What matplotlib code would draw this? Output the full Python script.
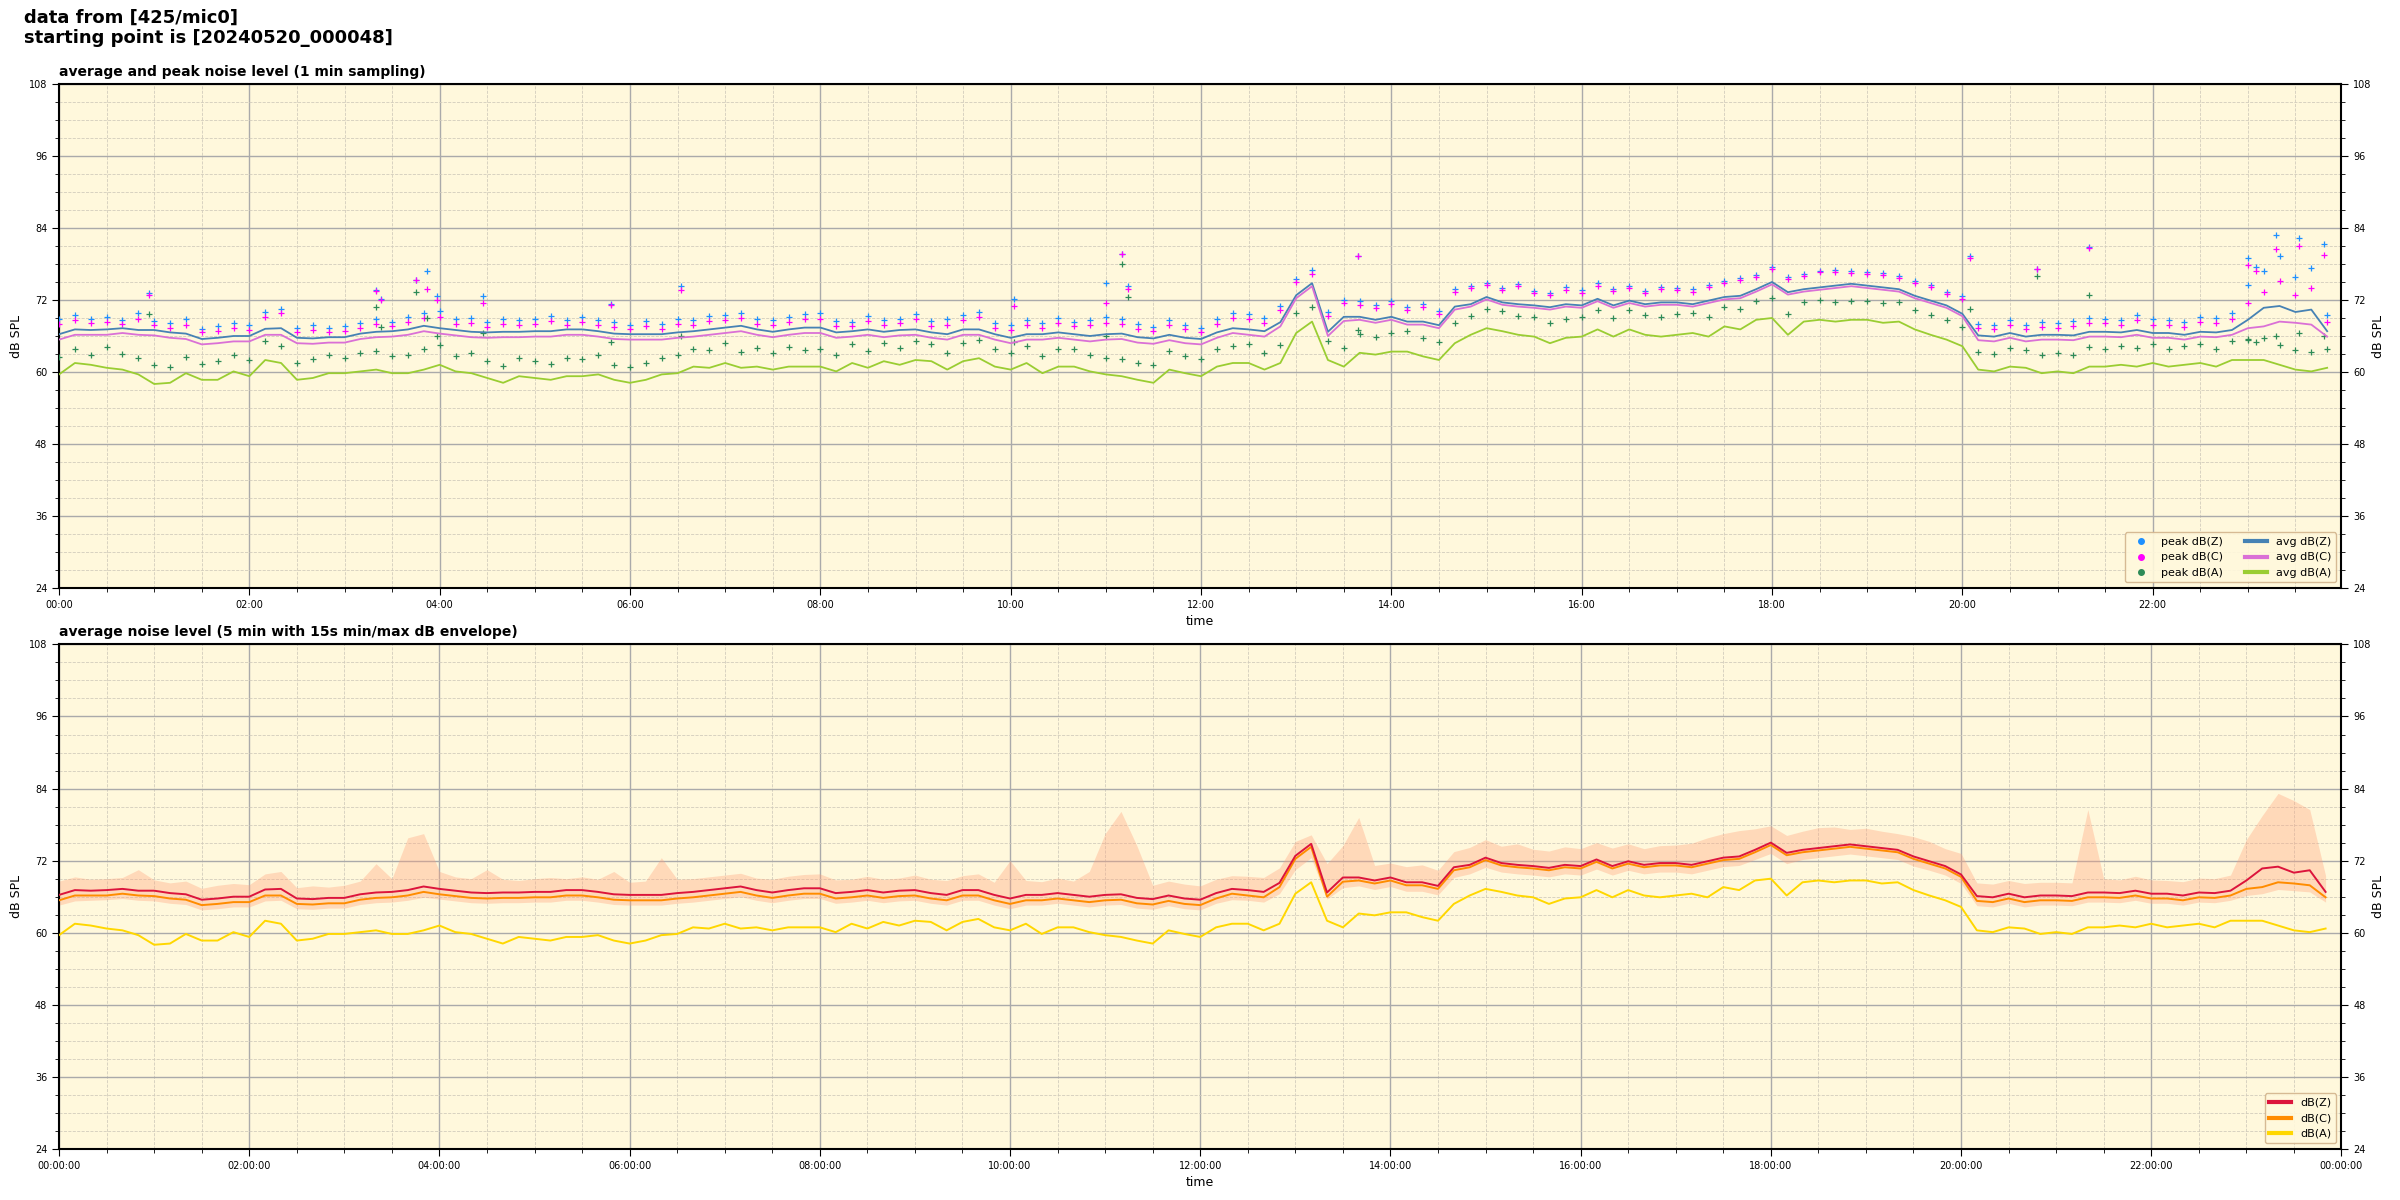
import numpy as np
import pandas as pd
import matplotlib
matplotlib.use("Agg")
import matplotlib.pyplot as plt
import matplotlib.dates as mdates
from matplotlib.lines import Line2D

# 10-minute readings, 00:00 .. 23:50 (144 values each)
avg_a = [59.6, 61.5, 61.2, 60.7, 60.4, 59.6,
         58.0, 58.2, 59.8, 58.7, 58.7, 60.1,
         59.3, 62.0, 61.5, 58.7, 59.0, 59.8,
         59.8, 60.1, 60.4, 59.8, 59.8, 60.4,
         61.2, 60.1, 59.8, 59.0, 58.2, 59.3,
         59.0, 58.7, 59.3, 59.3, 59.6, 58.7,
         58.2, 58.7, 59.6, 59.8, 60.9, 60.7,
         61.5, 60.7, 60.9, 60.4, 60.9, 60.9,
         60.9, 60.1, 61.5, 60.7, 61.8, 61.2,
         62.0, 61.8, 60.4, 61.8, 62.3, 60.9,
         60.4, 61.5, 59.8, 60.9, 60.9, 60.1,
         59.6, 59.3, 58.7, 58.2, 60.4, 59.8,
         59.3, 60.9, 61.5, 61.5, 60.4, 61.5,
         66.5, 68.4, 62.0, 60.9, 63.2, 62.9,
         63.4, 63.4, 62.6, 62.0, 64.8, 66.2,
         67.3, 66.8, 66.2, 65.9, 64.8, 65.7,
         65.9, 67.1, 65.9, 67.1, 66.2, 65.9,
         66.2, 66.5, 65.9, 67.6, 67.1, 68.7,
         69.0, 66.2, 68.4, 68.7, 68.4, 68.7,
         68.7, 68.2, 68.4, 67.1, 66.2, 65.4,
         64.3, 60.4, 60.1, 60.9, 60.7, 59.8,
         60.1, 59.8, 60.9, 60.9, 61.2, 60.9,
         61.5, 60.9, 61.2, 61.5, 60.9, 62.0,
         62.0, 62.0, 61.2, 60.4, 60.1, 60.7]

avg_c = [65.4, 66.2, 66.2, 66.2, 66.5, 66.2,
         66.1, 65.7, 65.5, 64.6, 64.8, 65.1,
         65.1, 66.2, 66.2, 64.8, 64.7, 64.9,
         64.9, 65.5, 65.8, 65.9, 66.2, 66.8,
         66.4, 66.1, 65.8, 65.7, 65.8, 65.8,
         65.9, 65.9, 66.2, 66.2, 65.9, 65.5,
         65.4, 65.4, 65.4, 65.7, 65.9, 66.2,
         66.5, 66.8, 66.2, 65.8, 66.2, 66.5,
         66.5, 65.7, 65.9, 66.2, 65.8, 66.1,
         66.2, 65.7, 65.4, 66.2, 66.2, 65.4,
         64.8, 65.4, 65.4, 65.7, 65.4, 65.1,
         65.4, 65.5, 64.9, 64.7, 65.3, 64.8,
         64.6, 65.7, 66.5, 66.2, 65.9, 67.6,
         72.3, 74.3, 66.0, 68.5, 68.7, 68.2,
         68.7, 67.9, 67.9, 67.3, 70.4, 70.9,
         72.1, 71.2, 70.9, 70.7, 70.4, 70.9,
         70.7, 71.8, 70.7, 71.5, 70.9, 71.2,
         71.2, 70.9, 71.5, 72.1, 72.3, 73.4,
         74.6, 72.9, 73.4, 73.7, 74.0, 74.3,
         74.0, 73.7, 73.4, 72.3, 71.5, 70.7,
         69.3, 65.3, 65.1, 65.7, 65.1, 65.4,
         65.4, 65.3, 65.9, 65.9, 65.8, 66.2,
         65.7, 65.7, 65.4, 65.9, 65.8, 66.2,
         67.3, 67.6, 68.4, 68.2, 67.9, 65.9]

avg_z = [66.3, 67.1, 67.0, 67.1, 67.3, 67.0,
         67.0, 66.6, 66.4, 65.5, 65.7, 66.0,
         66.0, 67.2, 67.3, 65.7, 65.6, 65.8,
         65.8, 66.4, 66.7, 66.8, 67.1, 67.7,
         67.3, 67.0, 66.7, 66.6, 66.7, 66.7,
         66.8, 66.8, 67.1, 67.1, 66.8, 66.4,
         66.3, 66.3, 66.3, 66.6, 66.8, 67.1,
         67.4, 67.7, 67.1, 66.7, 67.1, 67.4,
         67.4, 66.6, 66.8, 67.1, 66.7, 67.0,
         67.1, 66.6, 66.3, 67.1, 67.1, 66.3,
         65.7, 66.3, 66.3, 66.6, 66.3, 66.0,
         66.3, 66.4, 65.8, 65.6, 66.2, 65.7,
         65.5, 66.6, 67.3, 67.1, 66.8, 68.3,
         72.8, 74.8, 66.7, 69.2, 69.2, 68.7,
         69.2, 68.4, 68.4, 67.8, 70.9, 71.3,
         72.5, 71.6, 71.3, 71.1, 70.8, 71.3,
         71.1, 72.2, 71.1, 71.9, 71.3, 71.6,
         71.6, 71.3, 71.9, 72.5, 72.7, 73.8,
         75.0, 73.3, 73.8, 74.1, 74.4, 74.7,
         74.4, 74.1, 73.8, 72.7, 71.9, 71.1,
         69.7, 66.1, 65.9, 66.5, 65.9, 66.2,
         66.2, 66.1, 66.7, 66.7, 66.6, 67.0,
         66.5, 66.5, 66.2, 66.7, 66.6, 67.0,
         68.7, 70.7, 71.0, 70.0, 70.4, 66.8]

peak_z = [68.8, 69.5, 68.9, 69.2, 68.7, 69.8,
          68.5, 68.2, 68.9, 67.2, 67.6, 68.1,
          67.8, 70.0, 70.5, 67.4, 67.9, 67.3,
          67.6, 68.2, 68.9, 68.4, 69.1, 69.9,
          70.1, 68.8, 69.0, 68.3, 68.9, 68.6,
          68.9, 69.4, 68.7, 69.2, 68.6, 68.3,
          67.9, 68.5, 68.0, 68.9, 68.6, 69.3,
          69.5, 69.9, 68.8, 68.6, 69.2, 69.7,
          69.8, 68.5, 68.4, 69.4, 68.7, 68.9,
          69.6, 68.5, 68.8, 69.5, 70.0, 68.2,
          67.9, 68.6, 68.1, 69.0, 68.4, 68.7,
          69.1, 68.8, 68.0, 67.5, 68.6, 67.9,
          67.3, 68.8, 69.9, 69.6, 69.0, 71.0,
          75.5, 77.0, 70.0, 72.0, 71.8, 71.2,
          71.9, 70.8, 71.4, 70.2, 73.8, 74.4,
          74.8, 74.0, 74.6, 73.5, 73.2, 74.1,
          73.6, 74.8, 73.9, 74.4, 73.5, 74.2,
          74.0, 73.8, 74.5, 75.1, 75.6, 76.2,
          77.5, 75.8, 76.3, 76.9, 77.0, 76.8,
          76.7, 76.5, 76.0, 75.2, 74.5, 73.4,
          72.6, 68.0, 67.8, 68.6, 67.9, 68.3,
          68.2, 68.5, 69.0, 68.9, 68.7, 69.5,
          68.8, 68.6, 68.3, 69.1, 69.0, 69.8,
          74.5, 76.9, 79.3, 75.8, 77.4, 69.5]

peak_c = [68.0, 68.6, 68.2, 68.4, 68.0, 68.9,
          67.8, 67.4, 67.9, 66.6, 66.9, 67.3,
          67.0, 69.2, 69.8, 66.7, 67.0, 66.6,
          66.8, 67.4, 68.0, 67.7, 68.3, 69.0,
          69.2, 68.0, 68.1, 67.5, 68.0, 67.8,
          68.0, 68.5, 67.9, 68.4, 67.8, 67.5,
          67.1, 67.6, 67.2, 68.0, 67.8, 68.5,
          68.7, 69.0, 68.0, 67.8, 68.4, 68.9,
          68.9, 67.7, 67.6, 68.5, 67.9, 68.1,
          68.8, 67.7, 67.9, 68.6, 69.1, 67.4,
          67.0, 67.8, 67.3, 68.1, 67.6, 67.8,
          68.2, 68.0, 67.2, 66.8, 67.8, 67.1,
          66.6, 68.0, 69.0, 68.8, 68.2, 70.3,
          75.0, 76.4, 69.4, 71.5, 71.2, 70.7,
          71.4, 70.3, 70.9, 69.7, 73.4, 74.0,
          74.5, 73.6, 74.3, 73.1, 72.8, 73.7,
          73.2, 74.4, 73.5, 74.0, 73.1, 73.8,
          73.7, 73.4, 74.1, 74.8, 75.3, 75.9,
          77.2, 75.5, 76.0, 76.6, 76.7, 76.5,
          76.4, 76.2, 75.7, 74.9, 74.1, 73.0,
          72.2, 67.3, 67.1, 67.8, 67.1, 67.5,
          67.4, 67.6, 68.2, 68.1, 67.9, 68.6,
          67.9, 67.8, 67.5, 68.3, 68.2, 68.9,
          71.5, 73.4, 75.2, 72.8, 74.0, 68.4]

peak_a = [62.5, 63.8, 62.9, 64.2, 63.0, 62.4,
          61.2, 60.8, 62.5, 61.3, 61.9, 62.8,
          62.0, 65.1, 64.3, 61.5, 62.2, 62.9,
          62.4, 63.2, 63.5, 62.6, 62.9, 63.8,
          64.5, 62.7, 63.1, 61.9, 61.0, 62.4,
          61.8, 61.4, 62.3, 62.1, 62.8, 61.2,
          60.9, 61.5, 62.4, 62.9, 63.8, 63.6,
          64.9, 63.4, 64.0, 63.2, 64.1, 63.7,
          63.9, 62.9, 64.6, 63.5, 64.8, 64.0,
          65.1, 64.6, 63.2, 64.9, 65.3, 63.8,
          63.2, 64.4, 62.6, 63.9, 63.8, 62.9,
          62.4, 62.1, 61.5, 61.1, 63.5, 62.6,
          62.1, 63.8, 64.4, 64.6, 63.2, 64.5,
          69.8, 70.9, 65.1, 64.0, 66.3, 65.9,
          66.5, 66.8, 65.6, 65.0, 68.2, 69.4,
          70.5, 70.1, 69.4, 69.2, 68.1, 68.9,
          69.2, 70.4, 69.0, 70.3, 69.5, 69.1,
          69.6, 69.8, 69.1, 70.8, 70.5, 71.9,
          72.4, 69.6, 71.6, 72.0, 71.7, 71.9,
          71.9, 71.5, 71.6, 70.4, 69.5, 68.6,
          67.5, 63.4, 63.0, 64.0, 63.6, 62.9,
          63.2, 62.8, 64.1, 63.9, 64.4, 64.0,
          64.6, 63.9, 64.3, 64.7, 63.9, 65.1,
          65.3, 65.6, 64.5, 63.6, 63.4, 63.9]

# isolated peak events: minute of day, peak Z, peak C, peak A
spike_min = [57, 200, 203, 225, 232, 238, 267, 348, 392, 602, 660, 670, 674,
             819, 1205, 1247, 1280, 1380, 1385, 1398, 1412, 1428]
spike_z = [73.2, 73.6, 72.2, 75.4, 76.8, 72.7, 72.7, 71.4, 74.4, 72.2, 74.8, 79.7, 74.3,
           79.4, 79.3, 77.2, 80.8, 79.0, 77.5, 82.9, 82.3, 81.4]
spike_c = [72.9, 73.5, 72.0, 75.3, 73.9, 72.0, 71.5, 71.1, 73.6, 71.0, 71.5, 79.7, 73.8,
           79.3, 79.0, 77.2, 80.6, 77.8, 76.9, 80.5, 81.0, 79.5]
spike_a = [69.7, 70.8, 67.5, 73.4, 69.0, 66.0, 66.5, 65.0, 66.0, 65.0, 66.0, 78.0, 72.5,
           67.0, 70.5, 76.0, 72.9, 65.5, 65.0, 66.0, 66.5, 66.0]

# 15s min/max envelope, 10-minute readings
env_max = [68.6, 69.3, 68.9, 69.0, 69.2, 70.5,
           68.8, 68.3, 68.6, 67.4, 67.9, 68.2,
           68.0, 69.8, 70.2, 67.5, 67.8, 67.6,
           67.9, 68.6, 71.5, 69.0, 75.8, 76.5,
           70.2, 69.3, 69.0, 70.5, 68.9, 68.7,
           69.0, 69.2, 69.0, 69.3, 68.9, 70.2,
           68.4, 68.6, 72.5, 68.9, 69.0, 69.3,
           69.6, 69.9, 69.1, 68.9, 69.4, 69.7,
           69.8, 68.8, 68.9, 69.4, 68.9, 69.1,
           69.6, 68.9, 68.7, 69.5, 69.8, 68.4,
           72.0, 68.7, 68.5, 69.1, 68.6, 70.2,
           76.5, 80.2, 74.5, 67.9, 68.6, 68.1,
           67.8, 68.9, 69.5, 69.4, 69.2, 70.8,
           75.2, 76.3, 71.5, 74.5, 79.2, 71.2,
           71.6, 71.0, 71.3, 70.4, 73.5, 74.2,
           75.5, 74.4, 74.8, 73.9, 73.6, 74.3,
           74.0, 75.0, 74.1, 74.8, 74.0, 74.5,
           74.6, 74.9, 75.8, 76.5, 77.0, 77.3,
           77.8, 76.2, 76.9, 77.5, 77.6, 77.2,
           77.4, 76.9, 76.5, 76.0, 75.2, 74.0,
           73.2, 68.3, 68.1, 68.7, 68.2, 68.4,
           68.4, 68.3, 80.5, 69.0, 68.8, 69.4,
           68.8, 68.7, 68.5, 69.1, 69.0, 69.6,
           75.5, 79.5, 83.2, 82.0, 80.5, 69.5]

env_min = [64.6, 65.3, 65.4, 65.5, 65.7, 65.4,
           65.3, 64.9, 64.7, 63.8, 64.0, 64.3,
           64.3, 65.3, 65.4, 64.0, 63.9, 64.1,
           64.1, 64.7, 65.0, 65.1, 65.4, 65.9,
           65.6, 65.3, 65.0, 64.9, 65.0, 65.0,
           65.1, 65.1, 65.4, 65.4, 65.1, 64.7,
           64.6, 64.6, 64.6, 64.9, 65.1, 65.4,
           65.7, 66.0, 65.4, 65.0, 65.4, 65.7,
           65.7, 64.9, 65.1, 65.4, 65.0, 65.3,
           65.4, 64.9, 64.6, 65.4, 65.4, 64.6,
           64.0, 64.6, 64.6, 64.9, 64.6, 64.3,
           64.6, 64.7, 64.1, 63.9, 64.5, 64.0,
           63.8, 64.9, 65.5, 65.4, 65.1, 66.5,
           70.5, 72.5, 65.6, 67.5, 67.8, 67.2,
           67.7, 66.9, 66.9, 66.3, 69.2, 69.8,
           70.9, 70.1, 69.8, 69.6, 69.3, 69.8,
           69.6, 70.6, 69.6, 70.4, 69.8, 70.1,
           70.1, 69.8, 70.4, 71.0, 71.2, 72.2,
           73.2, 71.5, 72.2, 72.5, 72.8, 73.1,
           72.8, 72.5, 72.2, 71.1, 70.4, 69.6,
           68.2, 64.5, 64.3, 64.9, 64.3, 64.6,
           64.6, 64.5, 65.1, 65.1, 65.0, 65.4,
           64.9, 64.9, 64.6, 65.1, 65.0, 65.4,
           66.2, 66.5, 67.2, 67.0, 66.8, 65.1]

day = pd.Timestamp("2024-05-20 00:00")
t = day + pd.to_timedelta(np.arange(len(avg_a)) * 10, unit="m")
ts = day + pd.to_timedelta(spike_min, unit="m")
pt = t.append(ts)

bg = "#fff8dc"


def style_axis(ax, fmt, x_end):
    ax.set_facecolor(bg)
    ax.set_ylim(24, 108)
    ax.set_xlim(day, x_end)
    ax.set_yticks(np.arange(24, 109, 12))
    ax.set_yticks(np.arange(24, 109, 3), minor=True)
    ax.xaxis.set_major_locator(mdates.HourLocator(interval=2))
    ax.xaxis.set_minor_locator(mdates.MinuteLocator(byminute=[0, 30]))
    ax.xaxis.set_major_formatter(mdates.DateFormatter(fmt))
    ax.grid(which="major", color="#aaaaaa", lw=1.0, ls="-")
    ax.grid(which="minor", color="#d2ccbc", lw=0.6, ls="--")
    ax.set_axisbelow(True)
    ax.tick_params(which="major", direction="out", length=5, right=True,
                   labelright=True, labelsize=7)
    ax.tick_params(which="minor", direction="out", length=3, right=True)
    for sp in ax.spines.values():
        sp.set_linewidth(1.5)
    ax.set_xlabel("time", fontsize=9)
    ax.set_ylabel("dB SPL", fontsize=9)
    ax2 = ax.secondary_yaxis("right")
    ax2.set_yticks([])
    ax2.set_ylabel("dB SPL", fontsize=9, labelpad=22)
    ax2.spines["right"].set_visible(False)


fig = plt.figure(figsize=(24, 12), dpi=100)
ax1 = fig.add_axes([0.0246, 0.51, 0.951, 0.42])
ax3 = fig.add_axes([0.0246, 0.0425, 0.951, 0.4205])

fig.text(0.01, 0.993, "data from [425/mic0]\nstarting point is [20240520_000048]",
         fontsize=13, fontweight="bold", va="top", ha="left")

# top panel: peaks and averages
ax1.scatter(pt, peak_z + spike_z, marker="+", s=14, lw=0.9, color="dodgerblue", zorder=3)
ax1.scatter(pt, peak_c + spike_c, marker="+", s=14, lw=0.9, color="magenta", zorder=3)
ax1.scatter(pt, peak_a + spike_a, marker="+", s=14, lw=0.9, color="seagreen", zorder=3)
ax1.plot(t, avg_z, color="steelblue", lw=1.3, zorder=4)
ax1.plot(t, avg_c, color="orchid", lw=1.3, zorder=4)
ax1.plot(t, avg_a, color="yellowgreen", lw=1.3, zorder=4)
style_axis(ax1, "%H:%M", day + pd.Timedelta(minutes=1439))
ax1.set_title("average and peak noise level (1 min sampling)", loc="left",
              fontsize=10, fontweight="bold")
handles = [
    Line2D([], [], ls="", marker="o", ms=4, color="dodgerblue", label="peak dB(Z)"),
    Line2D([], [], ls="", marker="o", ms=4, color="magenta", label="peak dB(C)"),
    Line2D([], [], ls="", marker="o", ms=4, color="seagreen", label="peak dB(A)"),
    Line2D([], [], lw=3, color="steelblue", label="avg dB(Z)"),
    Line2D([], [], lw=3, color="orchid", label="avg dB(C)"),
    Line2D([], [], lw=3, color="yellowgreen", label="avg dB(A)"),
]
ax1.legend(handles=handles, loc="lower right", ncol=2, fontsize=8,
           facecolor=bg, edgecolor="tan", framealpha=0.9)

# bottom panel: 5 min averages with envelope
ax3.fill_between(t, env_min, env_max, color="lightsalmon", alpha=0.35, lw=0, zorder=2)
ax3.plot(t, avg_a, color="gold", lw=1.4, zorder=3)
ax3.plot(t, avg_c, color="darkorange", lw=1.4, zorder=3)
ax3.plot(t, avg_z, color="crimson", lw=1.4, zorder=4)
style_axis(ax3, "%H:%M:%S", day + pd.Timedelta(hours=24))
ax3.set_title("average noise level (5 min with 15s min/max dB envelope)", loc="left",
              fontsize=10, fontweight="bold")
handles2 = [
    Line2D([], [], lw=3, color="crimson", label="dB(Z)"),
    Line2D([], [], lw=3, color="darkorange", label="dB(C)"),
    Line2D([], [], lw=3, color="gold", label="dB(A)"),
]
ax3.legend(handles=handles2, loc="lower right", fontsize=8,
           facecolor=bg, edgecolor="tan", framealpha=0.9)

fig.savefig("out.png", dpi=100)
